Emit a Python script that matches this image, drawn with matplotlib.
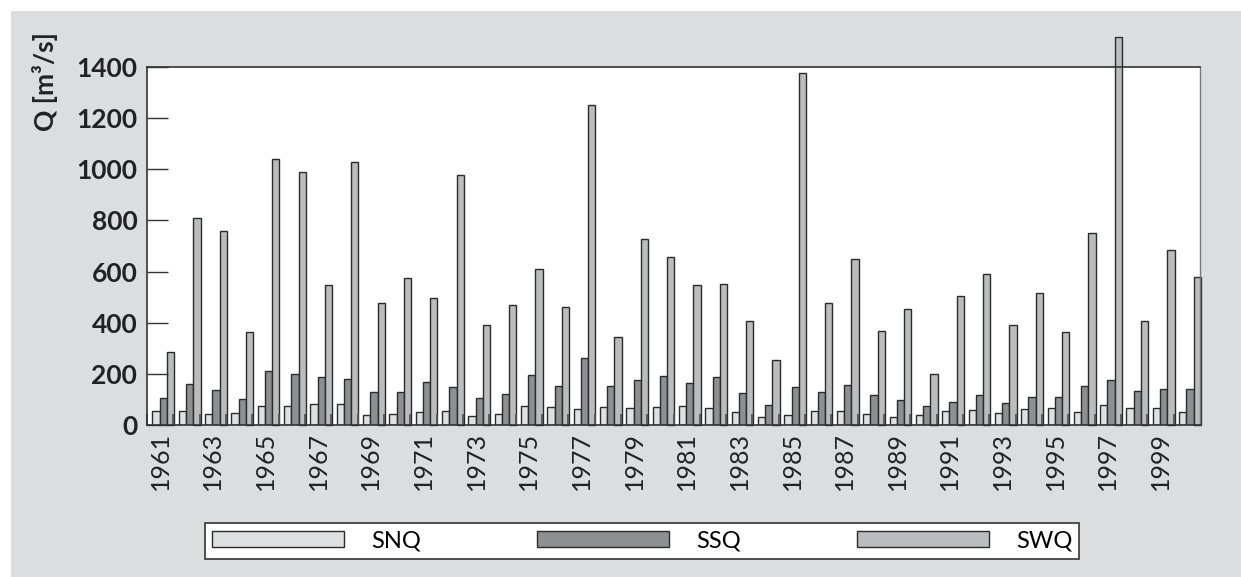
import numpy as np
import matplotlib.pyplot as plt
from matplotlib.patches import Rectangle

# Jahre und Abflusswerte [m3/s]
years = list(range(1961, 2001))
snq = [55, 55, 42, 47, 76, 76, 82, 82, 39, 44,
       52, 55, 35, 43, 74, 72, 64, 70, 65, 70,
       73, 65, 50, 31, 38, 55, 55, 44, 30, 38,
       56, 57, 47, 61, 68, 50, 78, 65, 68, 51]
ssq = [105, 162, 137, 100, 212, 199, 189, 181, 129, 129,
       168, 149, 104, 121, 197, 152, 262, 151, 176, 193,
       164, 188, 125, 77, 149, 129, 156, 117, 96, 73,
       90, 117, 86, 108, 108, 152, 175, 134, 142, 139]
swq = [284, 808, 760, 365, 1040, 989, 546, 1029, 476, 573,
       495, 976, 390, 469, 610, 461, 1251, 343, 727, 657,
       546, 550, 405, 255, 1378, 477, 649, 366, 452, 199,
       503, 589, 390, 517, 365, 750, 1518, 405, 684, 577]
tick_years = years[::2]

bg = '#dcdddf'
c_snq = '#dfe0e2'
c_ssq = '#8e8f92'
c_swq = '#bbbcbf'
edge = '#2b2b2b'

plt.rcParams['font.family'] = ['Lato', 'DejaVu Sans']

fig = plt.figure(figsize=(12.41, 5.77), dpi=100)
fig.patch.set_facecolor('white')
fig.patches.append(Rectangle((11 / 1241, 0), 1, 1 - 11 / 577,
                             transform=fig.transFigure, facecolor=bg,
                             edgecolor='none', zorder=-10))

ax = fig.add_axes([147 / 1241, 1 - 425 / 577, 1053 / 1241, 358 / 577])
ax.set_facecolor('white')

x = np.arange(len(years))
w = 0.275
off = 0.12
b1 = ax.bar(x - w + off, snq, w, color=c_snq, edgecolor=edge, linewidth=1, label='SNQ')
b2 = ax.bar(x + off, ssq, w, color=c_ssq, edgecolor=edge, linewidth=1, label='SSQ')
b3 = ax.bar(x + w + off, swq, w, color=c_swq, edgecolor=edge, linewidth=1, label='SWQ')
for b in b3:
    b.set_clip_on(False)

ax.set_xlim(-0.5, len(years) - 0.5)
ax.set_ylim(0, 1400)
ax.set_yticks(range(0, 1401, 200))
ax.tick_params(axis='y', direction='in', length=15, width=1, color='#333333',
               labelsize=19, pad=7)
for lab in ax.get_yticklabels():
    lab.set_fontweight('bold')
    lab.set_color('#222222')

ax.set_xticks([years.index(y) for y in tick_years])
ax.set_xticklabels([str(y) for y in tick_years], rotation=90, fontsize=18, color='#222222')
ax.tick_params(axis='x', length=0, pad=5)
ax.set_xticks(np.arange(len(years)) - 0.5, minor=True)
ax.tick_params(axis='x', which='minor', direction='in', length=8, width=1.3, color='#555555')

for s in ['left', 'bottom', 'top']:
    ax.spines[s].set_color('#333333')
    ax.spines[s].set_linewidth(1.2)
ax.spines['right'].set_color('#777777')
ax.spines['right'].set_linewidth(1)

fig.text(45 / 1241, 1 - 82 / 577, 'Q [m³/s]', rotation=90, fontsize=19,
         fontweight='bold', ha='center', va='center', color='#222222')

leg = fig.legend(handles=[b1, b2, b3], loc='center', ncol=3,
                 bbox_to_anchor=(642 / 1241, 1 - 541 / 577),
                 handlelength=5.6, handleheight=0.65, columnspacing=4.9,
                 handletextpad=1.15, fontsize=17, frameon=True, fancybox=False,
                 borderpad=0.3, borderaxespad=0)
leg.get_frame().set_edgecolor('#333333')
leg.get_frame().set_linewidth(1.2)
leg.get_frame().set_facecolor('white')
leg.get_frame().set_alpha(1)

fig.savefig('out.png', dpi=100, facecolor=fig.get_facecolor())
